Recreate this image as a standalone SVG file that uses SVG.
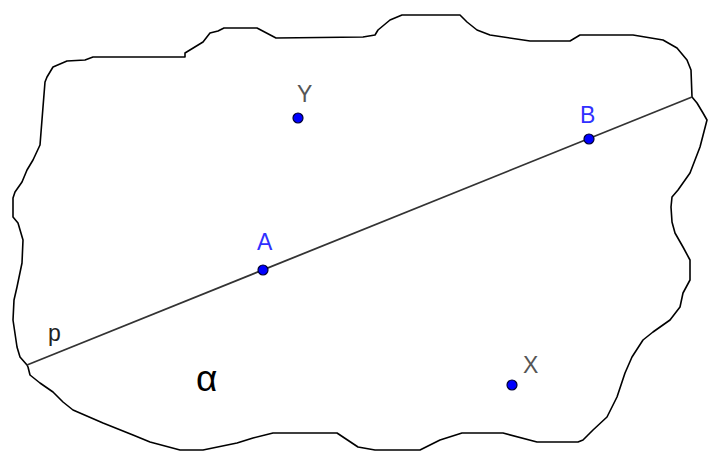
<svg xmlns="http://www.w3.org/2000/svg" width="708" height="451" viewBox="0 0 708 451">
<style>
.region{fill:#ffffff;stroke:#000000;stroke-width:1.6;stroke-linejoin:round}
.line{stroke:#333333;stroke-width:1.8;fill:none}
.pt{fill:#0000ff;stroke:#000033;stroke-width:1.2}
.lbl{font-family:"Liberation Sans",Arial,sans-serif;font-size:23px}
.gray{fill:#555555}
.blue{fill:#3030ff}
.big{font-size:37px;fill:#000000}
</style>
<rect width="708" height="451" fill="#ffffff"/>
<g id="plane-alpha">
<path class="region" d="M47,77 L53,67 L67,61 L85,60 L93,57 L185,57 L185,53 L203,42 L210,33 L218,31 L224,28 L257,28 L276,38 L363,37 L375,35 L378,30 L390,20 L402,15 L460,15 L467,22 L477,30 L490,35 L530,41 L570,41 L580,35 L633,35 L663,40 L677,48 L687,60 L691,70 L692,97 L697,103 L703,113 L707,120 L700,147 L690,173 L678,190 L672,197 L671,207 L672,222 L675,233 L683,247 L690,260 L690,280 L683,293 L680,307 L670,320 L653,332 L643,340 L632,357 L625,373 L617,397 L607,417 L593,430 L583,440 L578,442 L537,442 L503,433 L462,433 L440,440 L420,450 L375,450 L358,447 L337,433 L273,433 L253,438 L237,443 L203,450 L180,450 L150,442 L133,435 L103,423 L73,410 L63,402 L53,392 L40,383 L30,375 L28,367 L27,365 L20,357 L17,347 L13,320 L14,300 L17,287 L22,263 L23,240 L18,223 L13,217 L13,198 L15,192 L22,182 L27,170 L33,160 L40,145 L43,107 L45,82 Z"/>
<text class="lbl big" x="196" y="391">α</text>
</g>
<g id="connectors">
<line id="line-p" class="line" x1="27" y1="365" x2="692" y2="97"/>
<text class="lbl" x="48" y="341" fill="#222222">p</text>
</g>
<g id="point-A">
<circle class="pt" cx="263" cy="270" r="5"/>
<text class="lbl blue" x="257" y="250">A</text>
</g>
<g id="point-B">
<circle class="pt" cx="589" cy="139" r="5"/>
<text class="lbl blue" x="580" y="123">B</text>
</g>
<g id="point-Y">
<circle class="pt" cx="298" cy="118" r="5"/>
<text class="lbl gray" x="297" y="102">Y</text>
</g>
<g id="point-X">
<circle class="pt" cx="512" cy="385" r="5"/>
<text class="lbl gray" x="523" y="373">X</text>
</g>
</svg>
